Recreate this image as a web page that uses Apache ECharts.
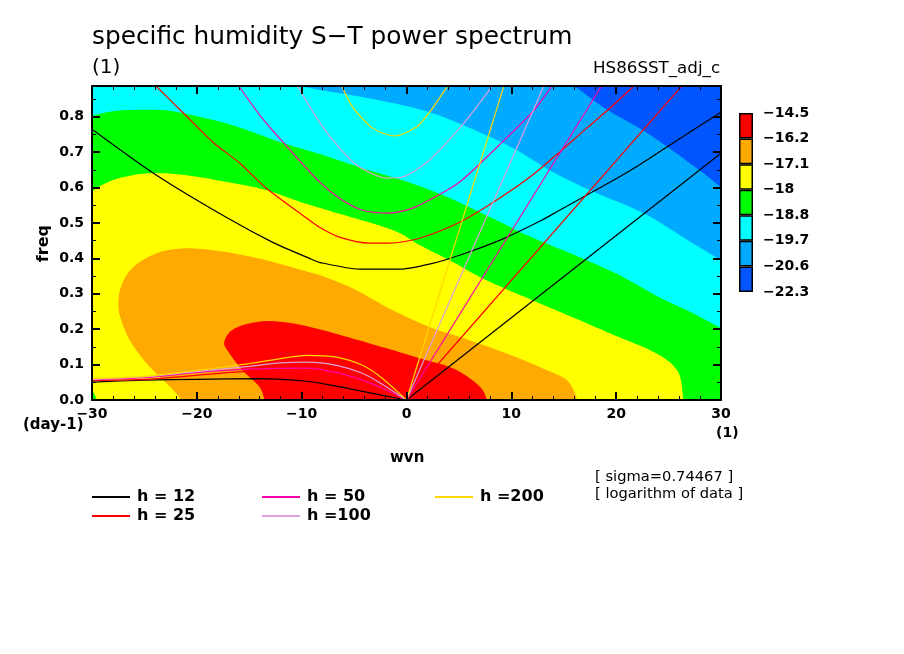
<!DOCTYPE html>
<html>
<head>
<meta charset="utf-8">
<title>specific humidity S-T power spectrum</title>
<style>
  body { margin: 0; background: #fff; }
  #main { width: 904px; height: 654px; }
</style>
<script src="https://cdn.jsdelivr.net/npm/echarts@6/dist/echarts.min.js"></script>
</head>
<body>
<div id="main"></div>
<script>
// contour bands as [wvn, freq]
// ends run a little past the frame and get clipped, doubled points keep the outer corners sharp
const darkBand = [[-32, -0.05], [-32, -0.05], [32, -0.05], [32, -0.05], [32, 0.91], [32, 0.91], [-32, 0.91], [-32, 0.91]];
const midBand = [[32, 0.55], [30, 0.601], [27.96, 0.649], [24.9, 0.715], [22.5, 0.763], [19.18, 0.819], [16, 0.887], [14.9, 0.91], [-32, 0.91], [-32, 0.91], [-32, -0.05], [-32, -0.05], [32, -0.05], [32, -0.05]];
const cyanBand = [[32, 0.36], [30, 0.395], [27.3, 0.443], [22.7, 0.526], [17.46, 0.593], [13.65, 0.649], [10.5, 0.706], [7.63, 0.748], [2.2, 0.813], [-4.2, 0.856], [-8.3, 0.876], [-10, 0.887], [-12, 0.91], [-32, 0.91], [-32, 0.91], [-32, -0.05], [-32, -0.05], [32, -0.05], [32, -0.05]];
const greenBand = [[32, 0.17], [30, 0.203], [26.7, 0.254], [24.1, 0.29], [20.3, 0.353], [17.2, 0.395], [11.45, 0.466], [8.6, 0.508], [3.44, 0.579], [-0.38, 0.621], [-4.2, 0.655], [-8.3, 0.695], [-11.8, 0.726], [-14.7, 0.757], [-17.2, 0.782], [-21, 0.808], [-23.3, 0.819], [-26.7, 0.819], [-28.6, 0.813], [-30, 0.802], [-32, 0.78], [-32, -0.05], [-32, -0.05], [32, -0.05], [32, -0.05]];
const yellowBand = [[-32, 0.06], [-30, 0.027], [-29.56, 0], [-29.2, -0.05], [-29.2, -0.05], [26.4, -0.05], [26.4, -0.05], [26.4, 0], [26.05, 0.07], [25.1, 0.107], [23.2, 0.141], [20.3, 0.177], [17.2, 0.217], [12, 0.282], [7.63, 0.338], [4.1, 0.395], [1.24, 0.438], [-0.67, 0.472], [-3.8, 0.504], [-7.06, 0.532], [-10.2, 0.56], [-13.4, 0.593], [-16.6, 0.613], [-21, 0.635], [-24.2, 0.641], [-26.1, 0.635], [-28.05, 0.621], [-30, 0.59], [-32, 0.53]];
const orangeBand = [[-21, -0.05], [-21.5, 0], [-22.9, 0.047], [-24.8, 0.104], [-26.4, 0.169], [-27.4, 0.245], [-27.4, 0.302], [-26.7, 0.353], [-25.5, 0.389], [-23.3, 0.42], [-20.7, 0.429], [-17.2, 0.418], [-13.4, 0.395], [-9.26, 0.361], [-8.3, 0.353], [-5.15, 0.316], [-1.34, 0.254], [2.2, 0.206], [6, 0.169], [10.5, 0.121], [13.4, 0.084], [15.3, 0.056], [16.2, 0.008], [16.3, -0.05]];
const redBand = [[-13.4, -0.05], [-13.55, 0], [-14, 0.036], [-15.65, 0.084], [-16.9, 0.132], [-17.4, 0.16], [-16.9, 0.191], [-15.65, 0.211], [-13.4, 0.223], [-10.9, 0.217], [-8.3, 0.2], [-5.15, 0.174], [-1.9, 0.146], [1.24, 0.118], [4.4, 0.09], [6.3, 0.056], [7.44, 0.019], [7.65, -0.05]];

// dispersion curves, three branches per equivalent depth
const rossby12 = [[-30, 0.0505], [-25, 0.056], [-20, 0.0585], [-14, 0.0605], [-9.54, 0.053], [-6.68, 0.039], [-4.2, 0.0246], [-2.29, 0.013], [0, 0]];
const gravity12 = [[-30, 0.765], [-23.85, 0.635], [-16.9, 0.511], [-12.8, 0.446], [-9.26, 0.4], [-8.3, 0.389], [-4.5, 0.3695], [-0.67, 0.3695], [2.48, 0.386], [5.06, 0.409], [8.87, 0.451], [12.9, 0.508], [14.6, 0.536], [19.4, 0.615], [22.2, 0.664], [24.8, 0.714], [30, 0.813]];
const kelvin12 = [[0, 0], [30, 0.697]];
const rossby25 = [[-30, 0.055], [-25, 0.058], [-19.85, 0.07], [-15, 0.081], [-9.54, 0.078], [-6.68, 0.061], [-4.2, 0.042], [-2.29, 0.025], [0, 0]];
const gravity25 = [[-23.9, 0.887], [-21.2, 0.808], [-18.5, 0.729], [-15.9, 0.669], [-13.4, 0.599], [-9.54, 0.514], [-8.3, 0.488], [-6.4, 0.46], [-3.53, 0.443], [-1.62, 0.443], [1.24, 0.457], [5.06, 0.502], [8.87, 0.57], [12, 0.635], [14.6, 0.7], [17, 0.763], [19.2, 0.819], [21.6, 0.884]];
const kelvin25 = [[0, 0], [26.2, 0.885]];
const rossby50 = [[-30, 0.057], [-25, 0.063], [-19.85, 0.078], [-15, 0.087], [-9.54, 0.09], [-6.68, 0.078], [-4.2, 0.056], [-2.29, 0.033], [0, 0]];
const gravity50 = [[-16, 0.887], [-14, 0.805], [-11.8, 0.729], [-8.3, 0.616], [-6.4, 0.57], [-4.2, 0.536], [-1.62, 0.528], [0.57, 0.542], [3.82, 0.592], [5.34, 0.622], [9.16, 0.729], [12, 0.813], [13.8, 0.884]];
const kelvin50 = [[0, 0], [18.6, 0.887]];
const rossby100 = [[-30, 0.0585], [-25, 0.065], [-19.85, 0.081], [-15, 0.095], [-12.4, 0.104], [-9.54, 0.107], [-6.68, 0.098], [-4.2, 0.0755], [-2.29, 0.044], [0, 0]];
const gravity100 = [[-10.4, 0.887], [-8.3, 0.785], [-6.4, 0.712], [-4.5, 0.658], [-1.9, 0.627], [-0.38, 0.63], [2.2, 0.678], [5.34, 0.777], [6.97, 0.839], [8.1, 0.884]];
const kelvin100 = [[0, 0], [13.07, 0.885]];
const rossby200 = [[-30, 0.0605], [-25, 0.067], [-19.85, 0.084], [-15, 0.103], [-12.4, 0.115], [-9.54, 0.126], [-6.68, 0.121], [-4.2, 0.098], [-2.29, 0.061], [0, 0]];
const gravity200 = [[-6.13, 0.884], [-5.15, 0.828], [-3.24, 0.768], [-1.15, 0.746], [0.95, 0.771], [2.2, 0.813], [3.85, 0.884]];
const kelvin200 = [[0, 0], [9.28, 0.886]];

const bandColors = ['#0055ff', '#00aaff', '#00ffff', '#00ff00', '#ffff00', '#ffaa00', '#ff0000'];
const colorbarLabels = ['-22.3', '-20.6', '-19.7', '-18.8', '-18', '-17.1', '-16.2', '-14.5'];
const depthNames = ['h = 12', 'h = 25', 'h = 50', 'h =100', 'h =200'];
const depthColors = ['#000000', '#ff0000', '#ff00aa', '#dda0dd', '#ffd700'];

const bands = [darkBand, midBand, cyanBand, greenBand, yellowBand, orangeBand, redBand];
const curves = [
  [rossby12, gravity12, kelvin12],
  [rossby25, gravity25, kelvin25],
  [rossby50, gravity50, kelvin50],
  [rossby100, gravity100, kelvin100],
  [rossby200, gravity200, kelvin200]
];

const FREQ_MAX = 0.887;
const labelFont = 'DejaVu Sans';
const minus = (s) => String(s).replace('-', '\u2212');

const myChart = echarts.init(document.getElementById('main'));

const series = [];

// filled bands, painted from lowest level up
series.push({
  type: 'custom',
  xAxisIndex: 0,
  yAxisIndex: 0,
  z: 1,
  clip: true,
  silent: true,
  data: bands.map((b, i) => [0, 0, i]),
  encode: { x: 0, y: 1 },
  renderItem: (params, api) => {
    const i = params.dataIndex;
    return {
      type: 'polygon',
      shape: { points: bands[i].map((p) => api.coord(p)), smooth: i === 0 ? 0 : 0.3 },
      style: { fill: bandColors[i] }
    };
  }
});

curves.forEach((branches, i) => {
  branches.forEach((branch) => {
    series.push({
      type: 'line',
      name: depthNames[i],
      xAxisIndex: 0,
      yAxisIndex: 0,
      z: 3,
      silent: true,
      symbol: 'none',
      smooth: 0.25,
      data: branch,
      itemStyle: { color: depthColors[i] },
      lineStyle: { color: depthColors[i], width: 1.2 }
    });
  });
});

// colorbar, equal sized boxes
bandColors.forEach((c, i) => {
  series.push({
    type: 'bar',
    xAxisIndex: 2,
    yAxisIndex: 2,
    stack: 'bar',
    barWidth: '100%',
    silent: true,
    data: [1],
    itemStyle: { color: c, borderColor: '#000', borderWidth: 1.5 }
  });
});

const xTicks = (position, showLabel) => ({
  type: 'value',
  gridIndex: 0,
  position: position,
  min: -30,
  max: 30,
  interval: 10,
  z: 5,
  axisLine: { onZero: false, lineStyle: { color: '#000', width: 2 } },
  axisTick: { inside: true, length: 8, lineStyle: { color: '#000', width: 2 } },
  minorTick: { show: true, splitNumber: 5, length: 4, lineStyle: { color: '#000', width: 1 } },
  splitLine: { show: false },
  axisLabel: {
    show: showLabel,
    margin: 7,
    color: '#000',
    fontFamily: labelFont,
    fontWeight: 'bold',
    fontSize: 14,
    formatter: (v) => minus(v)
  }
});

const yTicks = (position, showLabel) => ({
  type: 'value',
  gridIndex: 0,
  position: position,
  min: 0,
  max: FREQ_MAX,
  interval: 0.1,
  z: 5,
  axisLine: { onZero: false, lineStyle: { color: '#000', width: 2 } },
  axisTick: { inside: true, length: 8, lineStyle: { color: '#000', width: 2 } },
  minorTick: { show: true, splitNumber: 2, length: 4, lineStyle: { color: '#000', width: 1 } },
  splitLine: { show: false },
  axisLabel: {
    show: showLabel,
    showMaxLabel: false,
    margin: 8,
    color: '#000',
    fontFamily: labelFont,
    fontWeight: 'bold',
    fontSize: 14,
    formatter: (v) => v.toFixed(1)
  }
});

const legendBase = {
  orient: 'vertical',
  top: 489,
  padding: 0,
  icon: 'rect',
  itemWidth: 38,
  itemHeight: 2,
  itemGap: 3,
  selectedMode: false,
  textStyle: { color: '#000', fontFamily: labelFont, fontWeight: 'bold', fontSize: 16, padding: [0, 0, 0, 2] }
};

const text = (left, top, str, font) => ({
  type: 'text',
  left: left,
  top: top,
  silent: true,
  style: { text: str, fill: '#000', font: font }
});

const option = {
  animation: false,
  backgroundColor: '#fff',
  title: {
    text: 'specific humidity S\u2212T power spectrum',
    left: 92,
    top: 25,
    padding: 0,
    textStyle: { color: '#000', fontFamily: labelFont, fontWeight: 'normal', fontSize: 24.8 }
  },
  grid: [
    { left: 92, top: 86, width: 629, height: 314 },
    { left: 739, top: 113, width: 14, height: 179 }
  ],
  xAxis: [
    xTicks('bottom', true),
    xTicks('top', false),
    { type: 'category', gridIndex: 1, data: ['c'], show: false }
  ],
  yAxis: [
    yTicks('left', true),
    yTicks('right', false),
    {
      type: 'value',
      gridIndex: 1,
      position: 'right',
      min: 0,
      max: 7,
      interval: 1,
      axisLine: { show: false },
      axisTick: { show: false },
      splitLine: { show: false },
      axisLabel: {
        margin: 10,
        color: '#000',
        fontFamily: labelFont,
        fontWeight: 'bold',
        fontSize: 14,
        formatter: (v) => minus(colorbarLabels[v])
      }
    }
  ],
  legend: [
    Object.assign({}, legendBase, { left: 92, data: depthNames.slice(0, 2) }),
    Object.assign({}, legendBase, { left: 262, data: depthNames.slice(2, 4) }),
    Object.assign({}, legendBase, { left: 435, data: depthNames.slice(4) })
  ],
  graphic: [
    text(92, 58, '(1)', '20px "DejaVu Sans"'),
    text(593, 60, 'HS86SST_adj_c', '16.7px "DejaVu Sans"'),
    text(23, 418, '(day-1)', 'bold 15px "DejaVu Sans"'),
    text(716, 426, '(1)', 'bold 14px "DejaVu Sans"'),
    text(390, 451, 'wvn', 'bold 15px "DejaVu Sans"'),
    text(595, 470, '[ sigma=0.74467 ]', '14.7px "DejaVu Sans"'),
    text(595, 487, '[ logarithm of data ]', '14.7px "DejaVu Sans"'),
    {
      type: 'text',
      left: 36,
      top: 225,
      rotation: Math.PI / 2,
      silent: true,
      style: { text: 'freq', fill: '#000', font: 'bold 16px "DejaVu Sans"' }
    }
  ],
  series: series
};

option && myChart.setOption(option);
</script>
</body>
</html>
